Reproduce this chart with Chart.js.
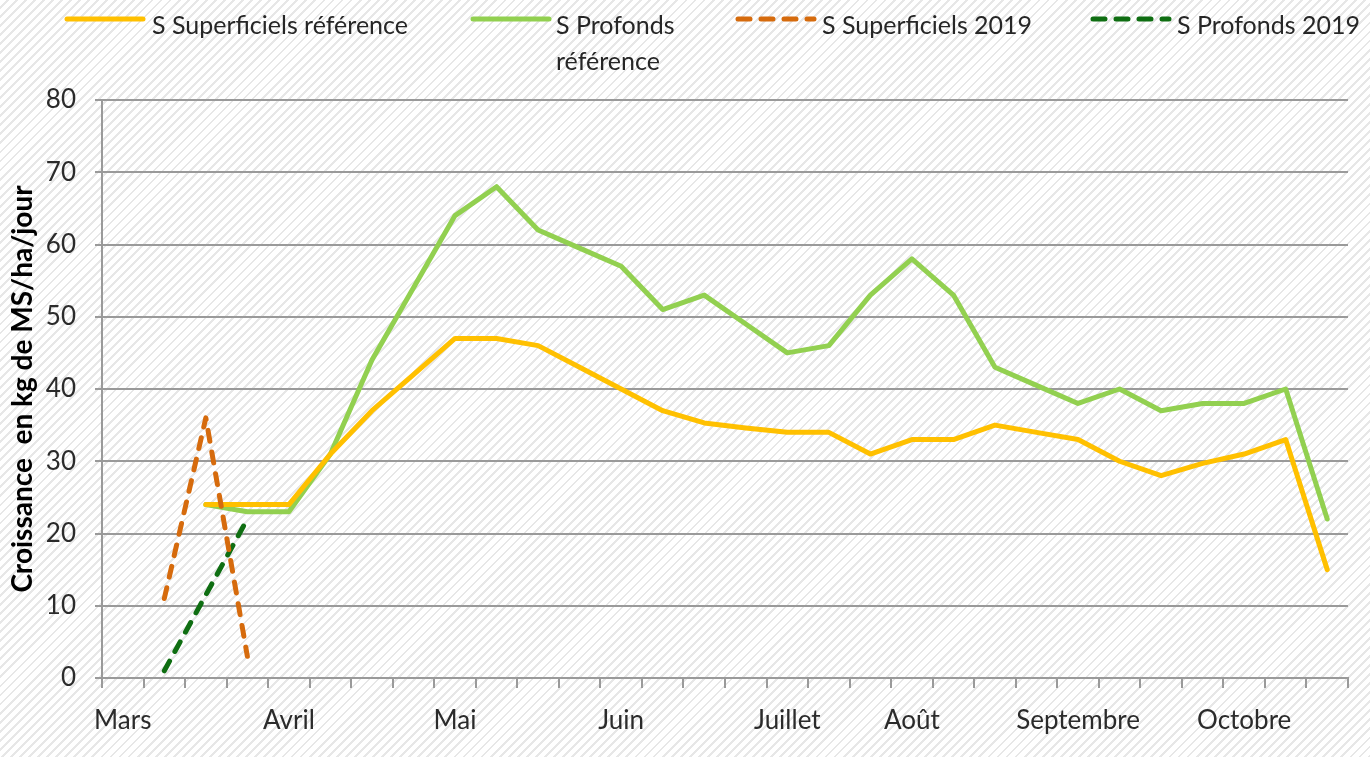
<!DOCTYPE html>
<html lang="fr">
<head>
<meta charset="utf-8">
<title>Croissance de l'herbe</title>
<script src="https://cdn.jsdelivr.net/npm/chart.js@4.4.0/dist/chart.umd.min.js"></script>
<style>
  html, body { margin: 0; padding: 0; }
  body {
    width: 1370px; height: 757px; overflow: hidden; position: relative;
    background: repeating-linear-gradient(135deg, #ffffff 0 4.4px, #e7e7e7 4.4px 6.4px);
    font-family: Lato, "Open Sans", sans-serif;
  }
  #wrap { position: absolute; left: 0; top: 0; width: 1370px; height: 757px; }
  .leg { position: absolute; font-size: 25px; color: #262626; line-height: 36px; white-space: nowrap; }
  .leg svg { position: absolute; left: 0; top: 14px; }
  .leg span { position: absolute; top: 6px; }
</style>
</head>
<body>
<div id="wrap"><canvas id="chart"></canvas></div>

<div class="leg" style="left:63px;top:0">
  <svg width="84" height="10"><line x1="4" y1="5" x2="80" y2="5" stroke="#ffc000" stroke-width="5" stroke-linecap="round"/></svg>
  <span style="left:89px">S Superficiels référence</span>
</div>
<div class="leg" style="left:469px;top:0">
  <svg width="84" height="10"><line x1="4" y1="5" x2="80" y2="5" stroke="#92d050" stroke-width="5" stroke-linecap="round"/></svg>
  <span style="left:87px">S Profonds<br>référence</span>
</div>
<div class="leg" style="left:734px;top:0">
  <svg width="84" height="10"><line x1="4" y1="5" x2="80" y2="5" stroke="#d66b0d" stroke-width="5" stroke-linecap="round" stroke-dasharray="12 11"/></svg>
  <span style="left:88px">S Superficiels 2019</span>
</div>
<div class="leg" style="left:1089px;top:0">
  <svg width="84" height="10"><line x1="4" y1="5" x2="80" y2="5" stroke="#0f6e12" stroke-width="5" stroke-linecap="round" stroke-dasharray="12 11"/></svg>
  <span style="left:88px">S Profonds 2019</span>
</div>

<script>
// semaines de mars à octobre, étiquette seulement au début de chaque mois
const weeks = ['Mars', '', '', '', 'Avril', '', '', '', 'Mai', '', '', '', 'Juin', '', '', '',
  'Juillet', '', '', 'Août', '', '', '', 'Septembre', '', '', '', 'Octobre', '', '']

const superficielsRef = [null, null, 24, 24, 24, 31, 37, 42, 47, 47, 46, 43, 40, 37, 35.3, 34.6,
  34, 34, 31, 33, 33, 35, 34, 33, 30, 28, 29.7, 31, 33, 15]
const profondsRef = [null, null, 24, 23, 23, 31, 44, 54, 64, 68, 62, 59.5, 57, 51, 53, 49,
  45, 46, 53, 58, 53, 43, 40.5, 38, 40, 37, 38, 38, 40, 22]
const superficiels2019 = [null, 11, 36, 3]
const profonds2019 = [null, 1, 11.5, 22]

const yTicks = [0, 10, 20, 30, 40, 50, 60, 70, 80]

const gridGray = '#9a9a9a'

function lineSet(label, data, color, dashed) {
    return {
        label: label,
        data: data,
        borderColor: color,
        backgroundColor: color,
        borderWidth: 5,
        borderDash: dashed ? [11, 11] : [],
        borderCapStyle: 'round',
        borderJoinStyle: 'round',
        pointRadius: 0,
        tension: 0,
        order: dashed ? 0 : 1
    }
}

new Chart(document.getElementById('chart'), {
    type: 'line',
    data: {
        labels: weeks,
        datasets: [
            lineSet('S Superficiels référence', superficielsRef, '#ffc000', false),
            lineSet('S Profonds référence', profondsRef, '#92d050', false),
            lineSet('S Superficiels 2019', superficiels2019, '#d66b0d', true),
            lineSet('S Profonds 2019', profonds2019, '#0f6e12', true)
        ]
    },
    options: {
        responsive: true,
        maintainAspectRatio: false,
        animation: false,
        layout: {padding: {top: 100, right: 22, left: 0, bottom: 0}},
        plugins: {
            legend: {display: false},
            tooltip: {enabled: false}
        },
        scales: {
            x: {
                offset: true,
                grid: {offset: true, drawOnChartArea: false, drawTicks: true, tickLength: 10, color: gridGray, lineWidth: 2},
                border: {display: true, color: gridGray, width: 2},
                ticks: {
                    autoSkip: false, maxRotation: 0, minRotation: 0, padding: 17,
                    color: '#2b2b2b', font: {family: 'Lato', size: 26}
                },
                afterFit: (scale) => { scale.height = 79 }
            },
            y: {
                min: 0,
                max: 80,
                afterBuildTicks: (scale) => { scale.ticks = yTicks.map(v => ({value: v})) },
                grid: {color: gridGray, lineWidth: 2, tickLength: 7},
                border: {display: true, color: gridGray, width: 2},
                ticks: {padding: 19, color: '#2b2b2b', font: {family: 'Lato', size: 26}},
                title: {
                    display: true,
                    text: 'Croissance  en kg de MS/ha/jour',
                    color: '#000',
                    font: {family: 'Lato', size: 28, weight: 'bold'},
                    padding: {top: 6, bottom: 0}
                },
                afterFit: (scale) => { scale.width = 102 }
            }
        }
    }
})
</script>
</body>
</html>
